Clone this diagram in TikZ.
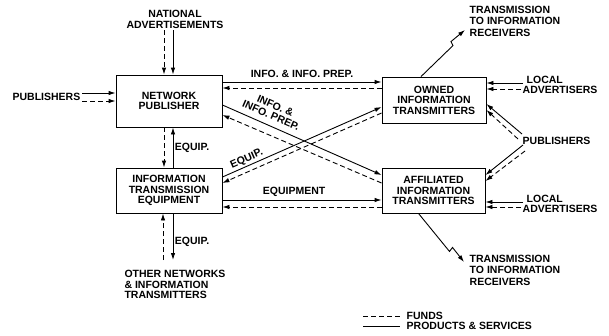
\documentclass[tikz,border=0pt]{standalone}
\usepackage{fontspec}
\setmainfont{Liberation Sans}
\usetikzlibrary{arrows.meta,positioning}
\begin{document}
\begin{tikzpicture}[x=1pt,y=-1pt,
    font=\fontsize{10.5}{10.5}\selectfont\bfseries,
    unit/.style={draw,line width=.9pt,align=center,inner sep=0pt},
    tag/.style={inner sep=1.5pt,align=center},
    goods/.style={line width=.9pt,-{Latex[length=7pt,width=4.5pt]}},
    funds/.style={goods,dash pattern=on 5pt off 3pt}]
    \useasboundingbox (0,0) rectangle (609,335);

    % the four units
    \node[unit,minimum width=106pt,minimum height=52pt] (np) at (169,101) {NETWORK\\PUBLISHER};
    \node[unit,minimum width=106pt,minimum height=45pt] (ite) at (169,190.5) {INFORMATION\\TRANSMISSION\\EQUIPMENT};
    \node[unit,minimum width=104pt,minimum height=46pt] (owned) at (434,100) {OWNED\\INFORMATION\\TRANSMITTERS};
    \node[unit,minimum width=103pt,minimum height=45pt] (aff) at (433.5,190.5) {AFFILIATED\\INFORMATION\\TRANSMITTERS};

    % outside parties
    \node[tag,anchor=south] (natads) at (175,30) {NATIONAL\\ADVERTISEMENTS};
    \node[tag,anchor=east] (publ) at (82,97) {PUBLISHERS};
    \node[tag,anchor=west] (pubr) at (521,141) {PUBLISHERS};
    \node[tag,anchor=west,align=left] (loco) at (521,85) {\hspace{4pt}LOCAL\\ADVERTISERS};
    \node[tag,anchor=west,align=left] (loca) at (521,204) {\hspace{4pt}LOCAL\\ADVERTISERS};
    \node[tag,anchor=north,align=left,inner ysep=10pt] (other) at (175,260)
        {OTHER NETWORKS\\\& INFORMATION\\TRANSMITTERS};
    \node[tag,anchor=west,align=left,font=\fontsize{10.5}{11.5}\selectfont\bfseries] (txo) at (468,21)
        {TRANSMISSION\\TO INFORMATION\\RECEIVERS};
    \node[tag,anchor=west,align=left,font=\fontsize{10.5}{11.5}\selectfont\bfseries] (txa) at (468,270)
        {TRANSMISSION\\TO INFORMATION\\RECEIVERS};

    % network publisher and owned transmitters
    \draw[goods] ([yshift=19pt]np.east) -- ([yshift=18pt]owned.west)
        node[tag,midway,above=2.5pt] (l1) {INFO. \& INFO. PREP.};
    \draw[funds] ([yshift=12pt]owned.west) -- ([yshift=13pt]np.east);

    % network publisher and affiliated transmitters
    \draw[goods] ([yshift=-4pt]np.east) -- ([yshift=15.5pt]aff.west)
        node[tag,pos=.28,sloped,above=4.5pt] (l2) {INFO. \&\\INFO. PREP.};
    \draw[funds] ([yshift=7.5pt]aff.west) -- ([yshift=-14pt]np.east);

    % equipment to owned transmitters
    \draw[goods] ([yshift=13.5pt]ite.east) -- ([yshift=-7pt]owned.west)
        node[tag,pos=.17,sloped,above] (l3) {EQUIP.};
    \draw[funds] ([yshift=-13pt]owned.west) -- ([yshift=7.5pt]ite.east);

    % equipment to affiliated transmitters
    \draw[goods] ([yshift=-9.5pt]ite.east) -- ([yshift=-9.5pt]aff.west)
        node[tag,pos=.45,above=1.5pt] (l4) {EQUIPMENT};
    \draw[funds] ([yshift=-16.5pt]aff.west) -- ([yshift=-16.5pt]ite.east);

    % vertical flows
    \draw[funds] ([xshift=-11pt]natads.south) -- ([xshift=-5pt]np.north);
    \draw[goods] ([xshift=-2pt]natads.south) -- ([xshift=4pt]np.north);
    \draw[funds] ([xshift=-5pt]np.south) -- ([xshift=-5pt]ite.north);
    \draw[goods] ([xshift=4pt]ite.north) -- ([xshift=4pt]np.south)
        node[tag,midway,right] (l5) {EQUIP.};
    \draw[funds] ([xshift=-12pt]other.north) -- ([xshift=-6pt]ite.south);
    \draw[goods] ([xshift=4pt]ite.south) -- ([xshift=-2pt]other.north)
        node[tag,pos=.6,right] (l6) {EQUIP.};

    % publishers
    \draw[goods] ([yshift=4pt]publ.east) -- ([yshift=8pt]np.west);
    \draw[funds] ([yshift=-4pt]publ.east) -- (np.west);
    \draw[goods] ([xshift=1pt,yshift=7pt]pubr.west) -- ([yshift=-4pt]owned.east);
    \draw[funds] ([xshift=-3pt,yshift=2pt]pubr.west) -- ([yshift=-10pt]owned.east);
    \draw[goods] ([xshift=2pt,yshift=-4pt]pubr.west) -- ([yshift=15.5pt]aff.east);
    \draw[funds] ([xshift=4pt,yshift=-10pt]pubr.west) -- ([yshift=9.5pt]aff.east);

    % local advertisers
    \draw[goods] ([xshift=2pt,yshift=2pt]loco.west) -- ([yshift=17pt]owned.east);
    \draw[funds] ([yshift=-4pt]loco.west) -- ([yshift=11pt]owned.east);
    \draw[goods] ([xshift=2pt,yshift=2pt]loca.west) -- ([yshift=-11.5pt]aff.east);
    \draw[funds] ([yshift=-3pt]loca.west) -- ([yshift=-16.5pt]aff.east);

    % transmission to receivers
    \coordinate (rayo) at (465,30);
    \coordinate (raya) at (464,262);
    \draw[goods] ([xshift=-13pt]owned.north) -- ++(32,-31) -- ++(-2,-4) -- (rayo);
    \draw[goods] ([xshift=-15pt]aff.south) -- ++(31,38) -- ++(3,-4) -- (raya);

    % legend
    \node[tag,anchor=west] (keyf) at (405,316) {FUNDS};
    \node[tag,anchor=west] (keyp) at (405,326) {PRODUCTS \& SERVICES};
    \draw[funds,-] ([xshift=-42pt]keyf.west) -- ([xshift=-5pt]keyf.west);
    \draw[goods,-] ([xshift=-42pt]keyp.west) -- ([xshift=-5pt]keyp.west);
\end{tikzpicture}
\end{document}
